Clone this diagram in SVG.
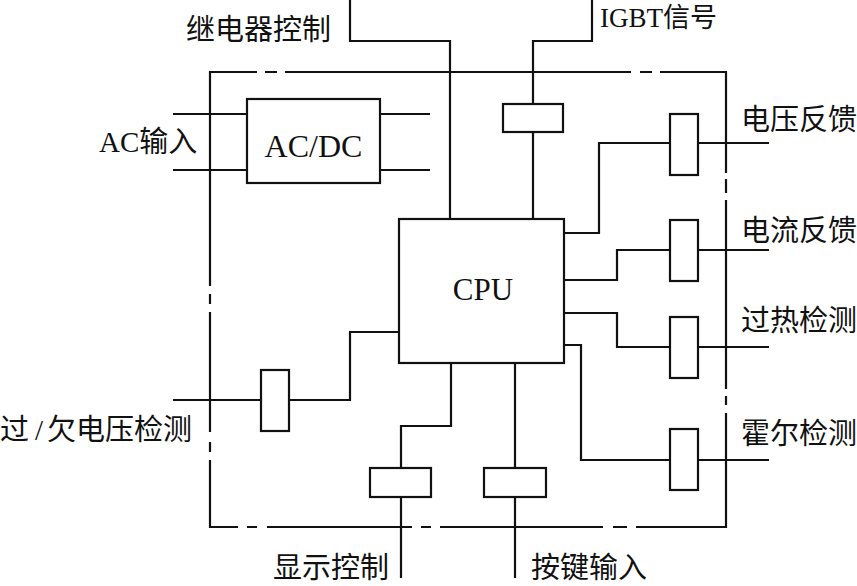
<svg xmlns="http://www.w3.org/2000/svg" width="857" height="586" viewBox="0 0 857 586">
<style>
.ln{fill:none;stroke:#111;stroke-width:2.2;stroke-linejoin:miter}
.bx{fill:#fff;stroke:#111;stroke-width:2.2}
.t{font-family:"Liberation Serif","Noto Sans CJK SC",serif;fill:#111}
.cn{font-size:29px}
</style>
<rect width="857" height="586" fill="#fff"/>
<g id="frame">
<path class="ln" d="M210,286 V72 H257 M265,72 H277 M285,72 H631 M640,72 H652 M660,72 H726 V173 M726,179 V193 M726,200 V389 M726,396 V405 M726,413 V527 H636 M627,527 H613 M603,527 H440 M431,527 H421 M412,527 H267 M257,527 H247 M238,527 H210 V460 M210,452 V442 M210,432 V312 M210,304 V294"/>
</g>
<g id="connectors">
<path class="ln" d="M350,0 V41 H450 V219"/>
<path class="ln" d="M592,0 V41 H533 V104 M533,132 V219"/>
<path class="ln" d="M564,233 H599 V143 H670 M698,143 H769"/>
<path class="ln" d="M564,280 H617 V250 H670 M698,250 H769"/>
<path class="ln" d="M564,313 H617 V347 H670 M698,347 H769"/>
<path class="ln" d="M564,345 H581 V460 H670 M698,460 H769"/>
<path class="ln" d="M173,400 H261 M289,400 H350 V332 H399"/>
<path class="ln" d="M451,363 V426 H401 V468 M401,497 V578"/>
<path class="ln" d="M515,363 V468 M515,497 V578"/>
<path class="ln" d="M173,114 H247 M173,170 H247 M380,114 H430 M380,170 H430"/>
</g>
<g id="cpu">
<rect class="bx" x="399" y="219" width="165" height="144"/>
<text class="t" x="483" y="300" font-size="31" text-anchor="middle">CPU</text>
</g>
<g id="acdc">
<rect class="bx" x="247" y="99" width="133" height="84"/>
<text class="t" x="313.5" y="157" font-size="32" text-anchor="middle">AC/DC</text>
</g>
<g id="igbt-box"><rect class="bx" x="503" y="104" width="60" height="28"/></g>
<g id="vfb-box"><rect class="bx" x="670" y="114" width="28" height="61"/></g>
<g id="ifb-box"><rect class="bx" x="670" y="220" width="28" height="61"/></g>
<g id="ot-box"><rect class="bx" x="670" y="317" width="28" height="61"/></g>
<g id="hall-box"><rect class="bx" x="670" y="429" width="28" height="61"/></g>
<g id="ovuv-box"><rect class="bx" x="261" y="370" width="28" height="61"/></g>
<g id="disp-box"><rect class="bx" x="370" y="468" width="61" height="29"/></g>
<g id="key-box"><rect class="bx" x="484" y="468" width="62" height="29"/></g>
<g id="labels">
<text class="t cn" x="186" y="39.5">继电器控制</text>
<text class="t" x="600" y="27" font-size="27">IGBT信号</text>
<text class="t cn" x="99" y="152">AC输入</text>
<text class="t cn" x="741" y="129.5">电压反馈</text>
<text class="t cn" x="741" y="241">电流反馈</text>
<text class="t cn" x="741" y="331">过热检测</text>
<text class="t cn" x="741" y="444">霍尔检测</text>
<text class="t cn" x="0" y="440">过<tspan dx="6">/</tspan><tspan dx="4">欠电压检测</tspan></text>
<text class="t cn" x="273" y="578">显示控制</text>
<text class="t cn" x="531" y="578">按键输入</text>
</g>
</svg>
